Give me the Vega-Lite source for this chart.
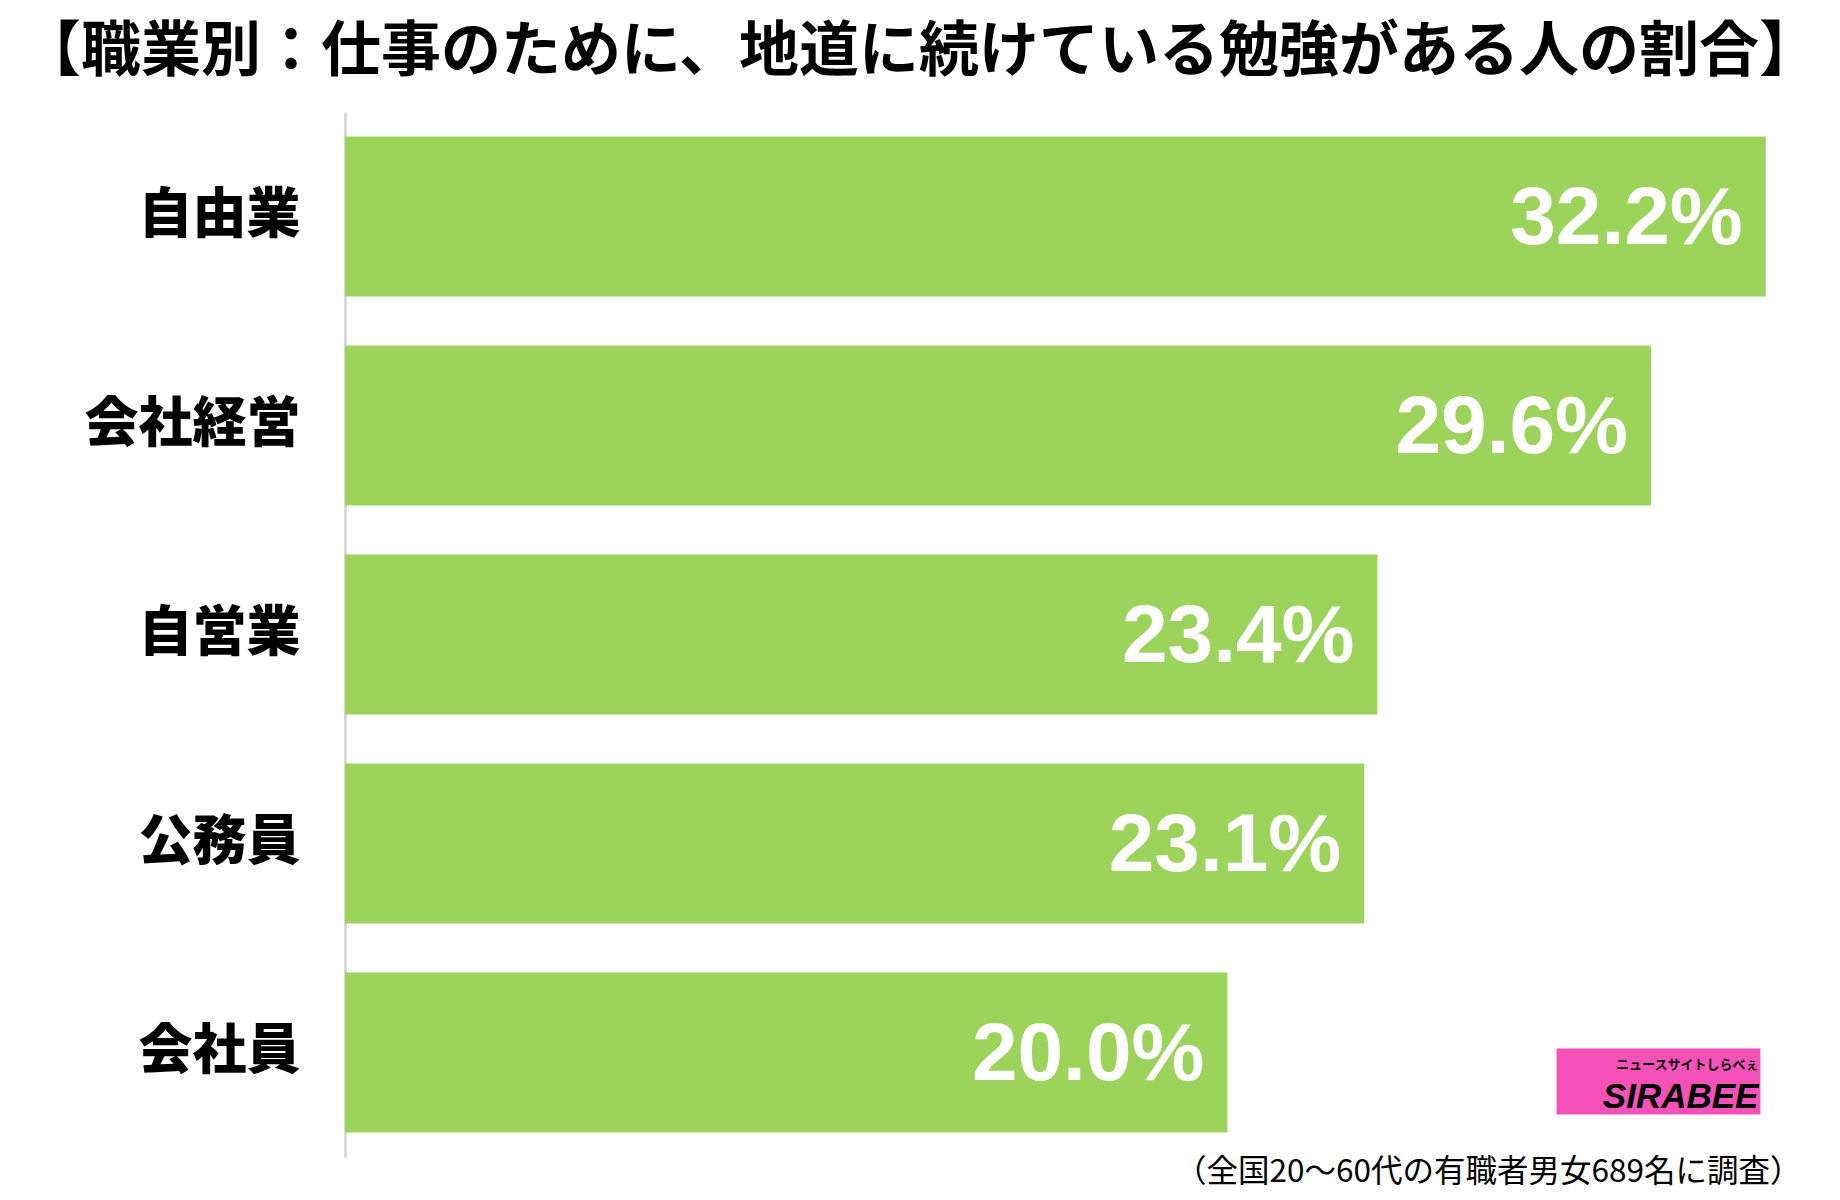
{
  "$schema": "https://vega.github.io/schema/vega-lite/v6.json",
  "width": 1456,
  "height": 1045,
  "autosize": {"type": "none"},
  "padding": {"left": 345, "top": 112, "right": 39, "bottom": 43},
  "background": "white",
  "config": {"view": {"stroke": null}},
  "title": {
    "text": "【職業別：仕事のために、地道に続けている勉強がある人の割合】",
    "font": "Noto Sans CJK JP",
    "fontSize": 60,
    "fontWeight": "bold",
    "color": "#000000",
    "anchor": "middle",
    "frame": "group",
    "dx": -153,
    "baseline": "alphabetic",
    "offset": -19
  },
  "datasets": {
    "main": [
      {"job": "自由業", "value": 32.2, "label": "32.2%"},
      {"job": "会社経営", "value": 29.6, "label": "29.6%"},
      {"job": "自営業", "value": 23.4, "label": "23.4%"},
      {"job": "公務員", "value": 23.1, "label": "23.1%"},
      {"job": "会社員", "value": 20.0, "label": "20.0%"}
    ],
    "logo": [
      {"job": "会社員", "start": 27.46, "end": 32.08, "brand": "SIRABEE", "tag": "ニュースサイトしらべぇ"}
    ]
  },
  "layer": [
    {
      "data": {"name": "main"},
      "mark": {"type": "bar", "color": "#9bd35b"},
      "encoding": {
        "y": {
          "field": "job", "type": "nominal", "sort": null,
          "scale": {"paddingInner": 0.234, "paddingOuter": 0.117},
          "axis": {
            "title": null, "ticks": false, "domain": true,
            "domainColor": "#d9d9d9", "domainWidth": 3,
            "labelFont": "Noto Sans CJK JP", "labelFontSize": 54,
            "labelFontWeight": 900, "labelColor": "#000000",
            "labelPadding": 45, "labelLimit": 500
          }
        },
        "x": {
          "field": "value", "type": "quantitative",
          "scale": {"domain": [0, 33], "nice": false},
          "axis": {
            "labels": false, "ticks": false, "domain": false, "grid": false,
            "title": "（全国20〜60代の有職者男女689名に調査）",
            "titleFont": "Noto Sans CJK JP", "titleFontSize": 31.5,
            "titleFontWeight": "normal", "titleColor": "#000000",
            "titleAnchor": "start", "titleAlign": "right",
            "titleBaseline": "top", "titleX": 1456, "titleY": -1
          }
        }
      }
    },
    {
      "data": {"name": "main"},
      "mark": {
        "type": "text", "align": "right", "baseline": "middle", "dx": -23, "dy": 2,
        "color": "#ffffff", "font": "Liberation Sans", "fontSize": 82, "fontWeight": "bold"
      },
      "encoding": {
        "y": {"field": "job", "type": "nominal", "sort": null},
        "x": {"field": "value", "type": "quantitative"},
        "text": {"field": "label"}
      }
    },
    {
      "data": {"name": "logo"},
      "mark": {"type": "bar", "color": "#f552b9", "height": 66, "yOffset": 29},
      "encoding": {
        "y": {"field": "job", "type": "nominal", "sort": null},
        "x": {"field": "start", "type": "quantitative"},
        "x2": {"field": "end"}
      }
    },
    {
      "data": {"name": "logo"},
      "mark": {
        "type": "text", "align": "right", "baseline": "middle", "dx": -2, "dy": 44,
        "color": "#000000", "font": "Liberation Sans", "fontSize": 35,
        "fontWeight": "bold", "fontStyle": "italic"
      },
      "encoding": {
        "y": {"field": "job", "type": "nominal", "sort": null},
        "x": {"field": "end", "type": "quantitative"},
        "text": {"field": "brand"}
      }
    },
    {
      "data": {"name": "logo"},
      "mark": {
        "type": "text", "align": "right", "baseline": "middle", "dx": -2, "dy": 12,
        "color": "#000000", "font": "Noto Sans CJK JP", "fontSize": 13,
        "fontWeight": "bold"
      },
      "encoding": {
        "y": {"field": "job", "type": "nominal", "sort": null},
        "x": {"field": "end", "type": "quantitative"},
        "text": {"field": "tag"}
      }
    }
  ]
}
